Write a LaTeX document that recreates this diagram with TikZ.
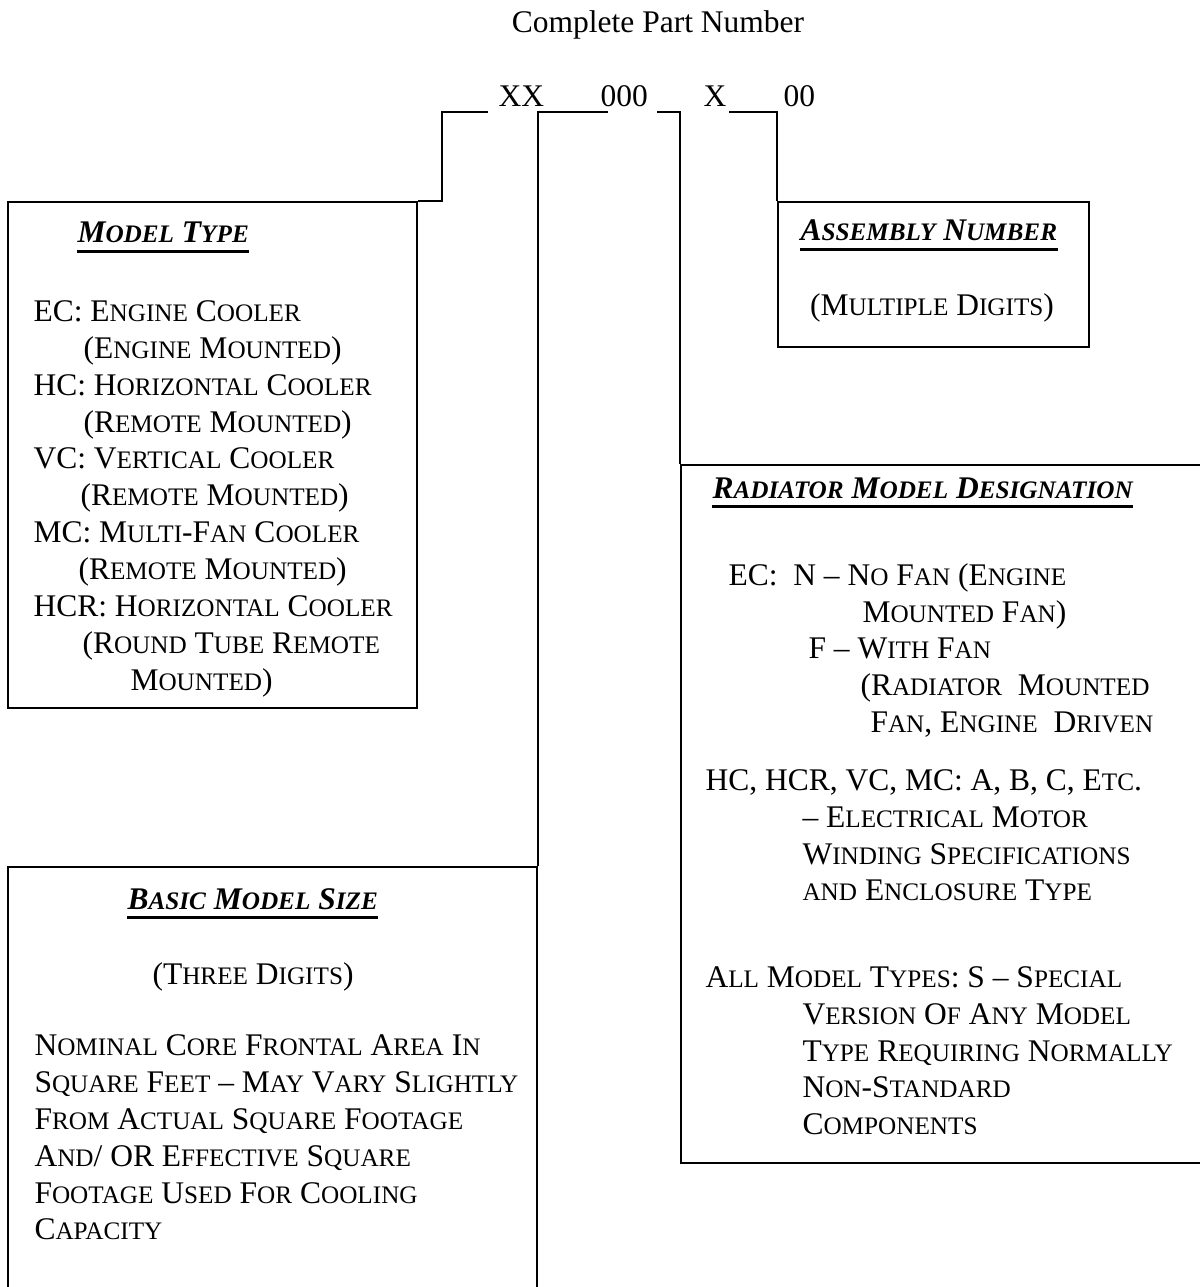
\documentclass[tikz,border=0pt]{standalone}
\usepackage{fontspec}
\setmainfont{Liberation Serif}
\usetikzlibrary{fit}

\newcommand{\basefont}{\fontsize{12}{14}\selectfont}
\newcommand{\sk}[1]{{\fontsize{9.6}{11}\selectfont #1}}

\tikzset
    { box/.style =
        { draw, line width=0.8pt, inner sep=0pt
        }
    , wire/.style =
        { line width=0.8pt
        }
    , txt/.style =
        { inner sep=0pt, anchor=base west, font=\basefont
        }
    , head/.style =
        { txt, font=\basefont\bfseries\itshape
        }
    , uline/.style =
        { line width=1.1pt
        }
    }

\begin{document}
\begin{tikzpicture}[x=0.381pt, y=-0.381pt]

    \useasboundingbox (0,0) rectangle (1199,1287);

    \node[txt, anchor=base] (title) at (658,33) {Complete Part Number};

    \node[txt] (pxx) at (498,107) {XX};
    \node[txt] (pnum) at (600,107) {000};
    \node[txt] (px) at (703,107) {X};
    \node[txt] (pzz) at (783,107) {00};

    % boxes
    \node[box, fit={(8,202) (417,708)}] (model) {};
    \node[box, fit={(778,202) (1089,347)}] (asm) {};
    \node[box, fit={(681,465) (1215,1163)}] (rad) {};
    \node[box, fit={(8,867) (537,1300)}] (basic) {};

    % leaders from the part number
    \coordinate (l1) at (488,112);
    \coordinate (l2) at (608,112);
    \coordinate (l3) at (657,112);
    \coordinate (l4) at (729,112);
    \draw[wire] (l1) -| ([xshift=9.1pt]model.north east) -- (model.north east);
    \draw[wire] (l2) -| (basic.north east);
    \draw[wire] (l3) -| (rad.north west);
    \draw[wire] (l4) -| (asm.north west);

    % headings
    \node[head] (mhd) at (77,243) {M\sk{ODEL} T\sk{YPE}};
    \node[head] (ahd) at (800,241) {A\sk{SSEMBLY} N\sk{UMBER}};
    \node[head] (rhd) at (712,498) {R\sk{ADIATOR} M\sk{ODEL} D\sk{ESIGNATION}};
    \node[head] (bhd) at (127,909) {B\sk{ASIC} M\sk{ODEL} S\sk{IZE}};
    \foreach \h in {mhd, ahd, rhd, bhd}
        \draw[uline] ([yshift=-3.4pt]\h.base west) -- ([yshift=-3.4pt]\h.base east);

    \node[txt, anchor=base] (adig) at (932,315) {(M\sk{ULTIPLE} D\sk{IGITS})};

    \foreach \xx/\yy/\ln [count=\i] in
        { 33/321/{EC: E\sk{NGINE} C\sk{OOLER}}
        , 83/358/{(E\sk{NGINE} M\sk{OUNTED})}
        , 33/395/{HC: H\sk{ORIZONTAL} C\sk{OOLER}}
        , 83/432/{(R\sk{EMOTE} M\sk{OUNTED})}
        , 33/468/{VC: V\sk{ERTICAL} C\sk{OOLER}}
        , 80/505/{(R\sk{EMOTE} M\sk{OUNTED})}
        , 33/542/{MC: M\sk{ULTI}-F\sk{AN} C\sk{OOLER}}
        , 78/579/{(R\sk{EMOTE} M\sk{OUNTED})}
        , 33/616/{HCR: H\sk{ORIZONTAL} C\sk{OOLER}}
        , 82/653/{(R\sk{OUND} T\sk{UBE} R\sk{EMOTE}}
        , 130/690/{M\sk{OUNTED})}
        }
        \node[txt] (mt\i) at (\xx,\yy) {\ln};

    \foreach \xx/\yy/\ln [count=\i] in
        { 728/585/{EC:\ \ N – N\sk{O} F\sk{AN} (E\sk{NGINE}}
        , 862/622/{M\sk{OUNTED} F\sk{AN})}
        , 808/658/{F – W\sk{ITH} F\sk{AN}}
        , 860/695/{(R\sk{ADIATOR}\ \ M\sk{OUNTED}}
        , 870/732/{F\sk{AN}, E\sk{NGINE}\ \ D\sk{RIVEN}}
        , 705/790/{HC, HCR, VC, MC: A, B, C, E\sk{TC}.}
        , 802/827/{– E\sk{LECTRICAL} M\sk{OTOR}}
        , 802/864/{W\sk{INDING} S\sk{PECIFICATIONS}}
        , 802/900/{\sk{AND} E\sk{NCLOSURE} T\sk{YPE}}
        , 705/987/{A\sk{LL} M\sk{ODEL} T\sk{YPES}: S – S\sk{PECIAL}}
        , 802/1024/{V\sk{ERSION} O\sk{F} A\sk{NY} M\sk{ODEL}}
        , 802/1061/{T\sk{YPE} R\sk{EQUIRING} N\sk{ORMALLY}}
        , 802/1097/{N\sk{ON}-S\sk{TANDARD}}
        , 802/1134/{C\sk{OMPONENTS}}
        }
        \node[txt] (rt\i) at (\xx,\yy) {\ln};

    \foreach \xx/\yy/\ln [count=\i] in
        { 152/984/{(T\sk{HREE} D\sk{IGITS})}
        , 34/1055/{N\sk{OMINAL} C\sk{ORE} F\sk{RONTAL} A\sk{REA} I\sk{N}}
        , 34/1092/{S\sk{QUARE} F\sk{EET} – M\sk{AY} V\sk{ARY} S\sk{LIGHTLY}}
        , 34/1129/{F\sk{ROM} A\sk{CTUAL} S\sk{QUARE} F\sk{OOTAGE}}
        , 34/1166/{A\sk{ND}/ OR E\sk{FFECTIVE} S\sk{QUARE}}
        , 34/1203/{F\sk{OOTAGE} U\sk{SED} F\sk{OR} C\sk{OOLING}}
        , 34/1239/{C\sk{APACITY}}
        }
        \node[txt] (bt\i) at (\xx,\yy) {\ln};

\end{tikzpicture}
\end{document}
